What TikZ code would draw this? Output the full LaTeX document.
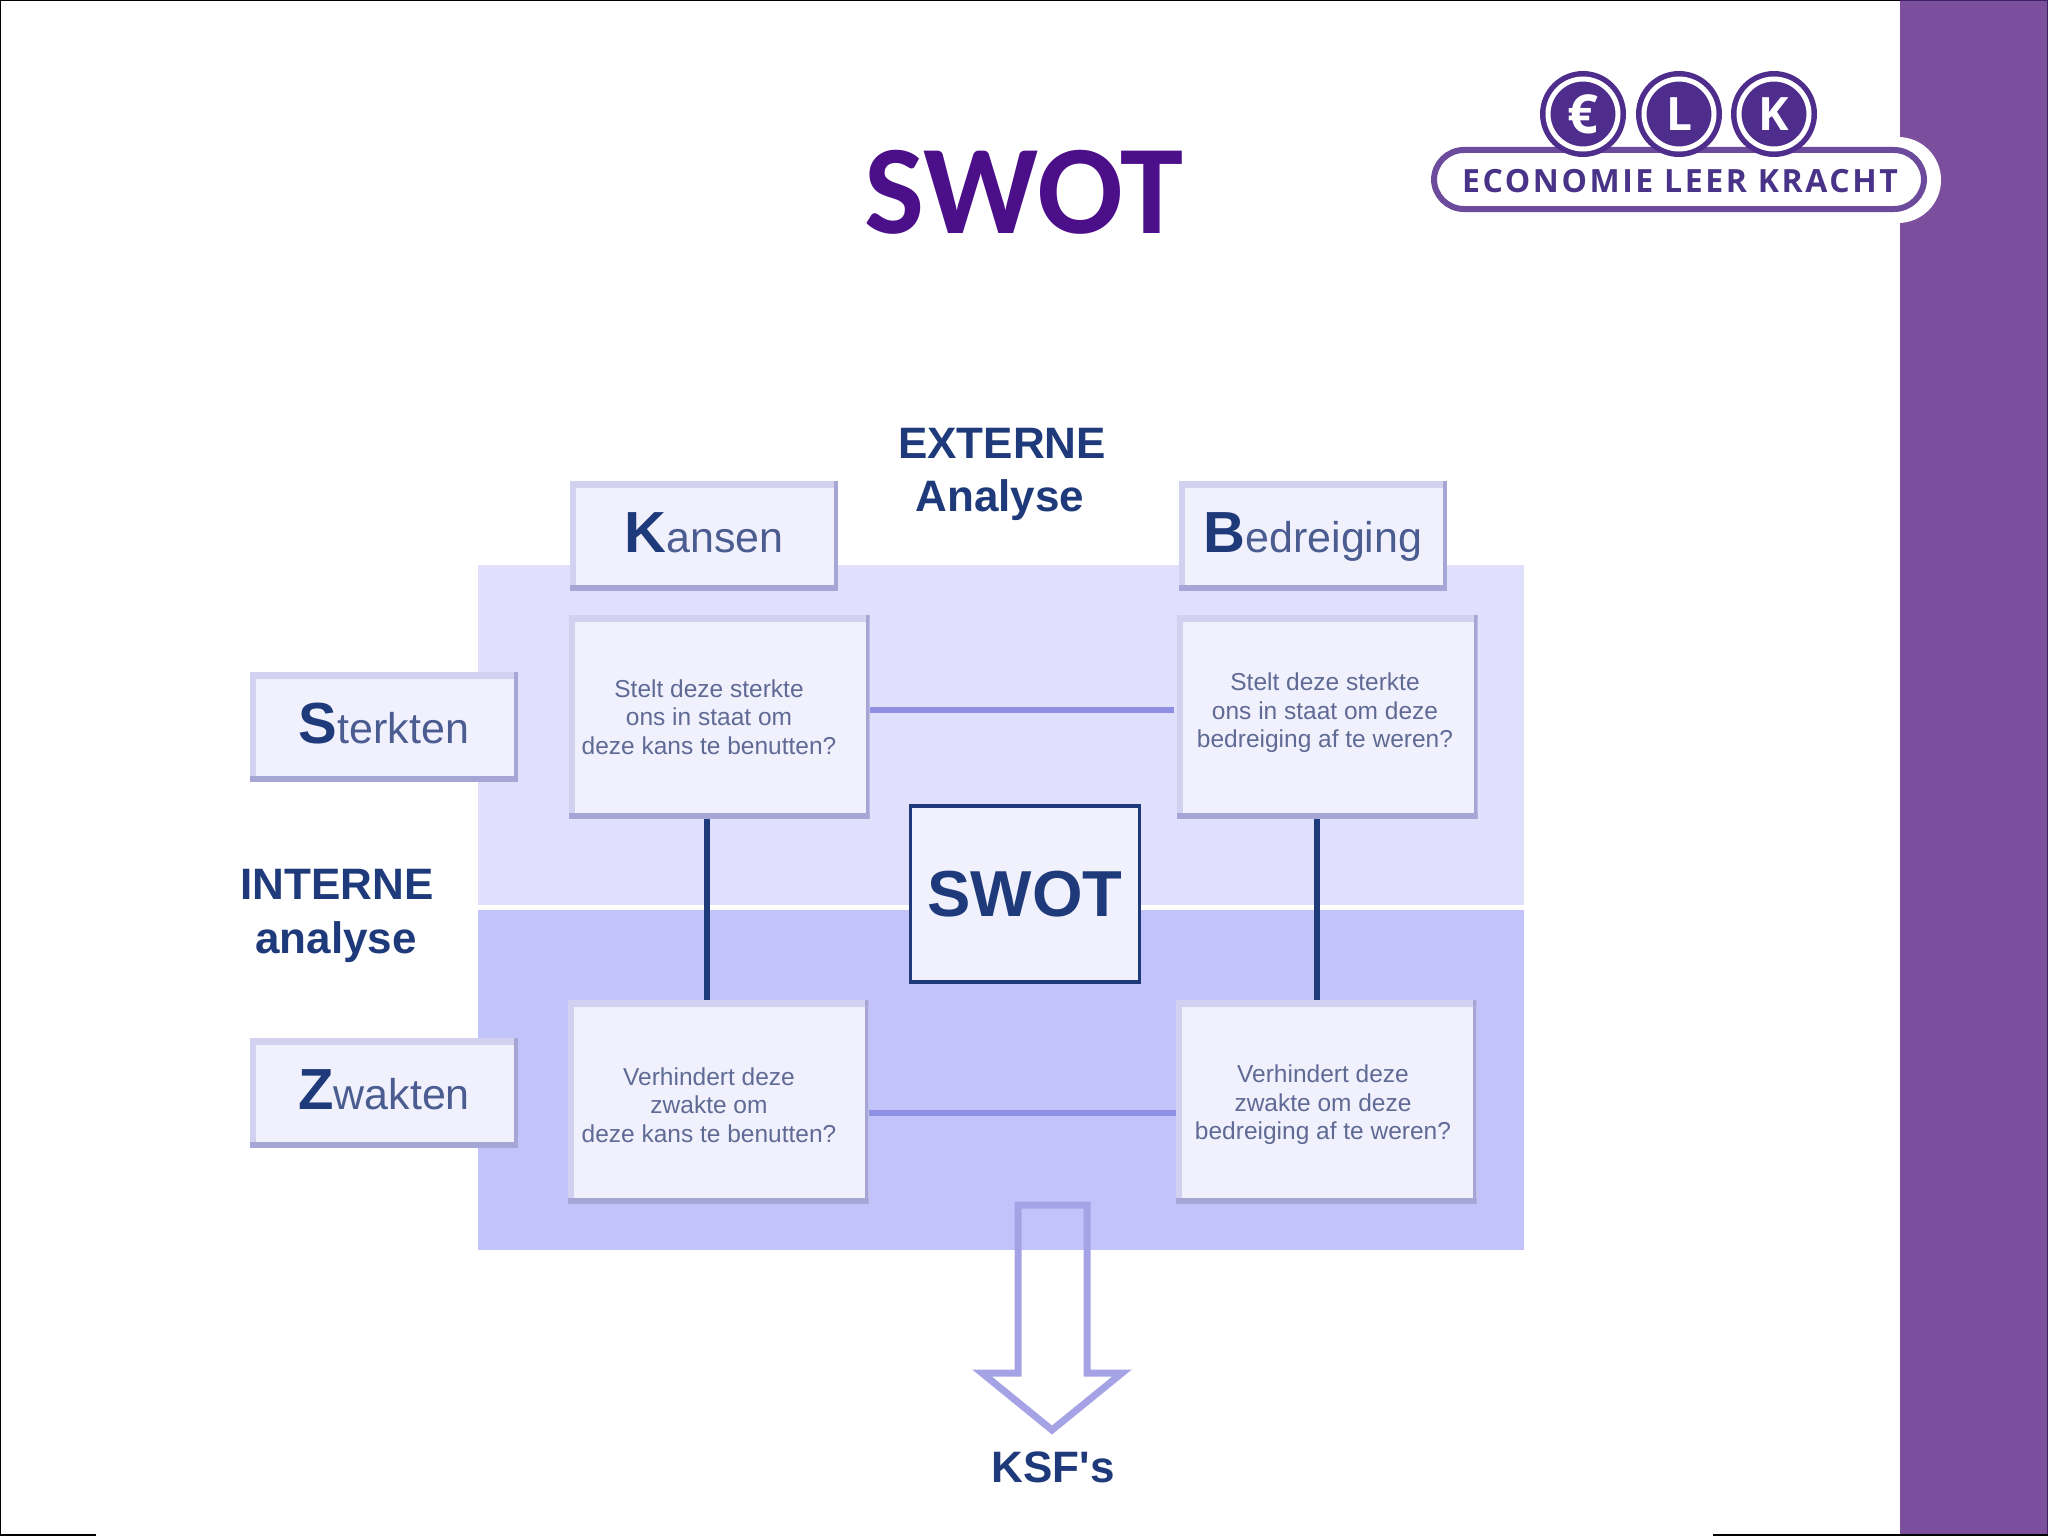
\documentclass[tikz,border=0pt]{standalone}
\usepackage{fontspec}
\setmainfont{Liberation Sans}
\newfontfamily\titlefont{Carlito}
\newfontfamily\logofont[LetterSpace=8]{Open Sans}
\newfontfamily\logoletter{Open Sans}
\definecolor{sidebar}{HTML}{7B4F9D}
\definecolor{sideedge}{HTML}{3F2060}
\definecolor{titlepurple}{HTML}{4B0F8A}
\definecolor{logopurple}{HTML}{4F2D8C}
\definecolor{pillpurple}{HTML}{6C4A9C}
\definecolor{logotext}{HTML}{493388}
\definecolor{panelup}{HTML}{E0E0FC}
\definecolor{paneldown}{HTML}{C3C3FB}
\definecolor{boxfill}{HTML}{F1F1FD}
\definecolor{bevellight}{HTML}{D2D2F0}
\definecolor{beveldark}{HTML}{A6A6D6}
\definecolor{navy}{HTML}{1F3A7A}
\definecolor{softline}{HTML}{8F8FE4}
\definecolor{arrowline}{HTML}{A5A3E6}
\definecolor{bodytext}{HTML}{5F6A95}
\definecolor{labeltext}{HTML}{4A5C90}
\newcommand{\fs}[1]{\fontsize{#1}{#1}\selectfont}
\newcommand{\lab}[2]{{\fs{58}\bfseries\color{navy}#1}{\fs{43}\color{labeltext}#2}}
\tikzset{
  bevelbox/.style={rectangle,fill=boxfill,inner sep=0pt,outer sep=0pt,align=center,
    path picture={
      \fill[bevellight] (path picture bounding box.north west) rectangle ([yshift=-7pt]path picture bounding box.north east);
      \fill[bevellight] (path picture bounding box.north west) rectangle ([xshift=6pt]path picture bounding box.south west);
      \fill[beveldark] (path picture bounding box.south west) rectangle ([yshift=6pt]path picture bounding box.south east);
      \fill[beveldark] (path picture bounding box.north east) rectangle ([xshift=-4pt]path picture bounding box.south east);
    }},
  headbox/.style={bevelbox,minimum width=268pt,minimum height=110pt,text height=42pt,text depth=10pt},
  quadbox/.style={bevelbox,minimum width=301pt,minimum height=204pt},
  quadtext/.style={align=center,text=bodytext,font=\fs{24.5},inner sep=0pt},
  heading/.style={align=center,text=navy,font=\bfseries\fs{44},inner sep=0pt},
  coin/.style={circle,fill=logopurple,minimum size=86pt,inner sep=0pt,outer sep=0pt},
  coinletter/.style={text=white,font=\logoletter\bfseries\fs{46},inner sep=0pt},
  softlink/.style={draw=softline,line width=6pt},
  navylink/.style={draw=navy,line width=5.5pt},
}
\begin{document}
\begin{tikzpicture}[x=1pt,y=-1pt]
\useasboundingbox (0,0) rectangle (2048,1536);
\fill[white] (0,0) rectangle (2048,1536);
\fill[sidebar] (1900,0) rectangle (2048,1536);
\draw[black,line width=2pt] (0,1536) -- (0,0) -- (1900,0);
\draw[sideedge,line width=2pt] (1900,0) -- (2048,0) -- (2048,1536);
\draw[black,line width=2pt] (0,1535) -- (96,1535);
\draw[black,line width=2pt] (1713,1535) -- (2048,1535);

% logo
\fill[white,rounded corners=43pt] (1420,137) rectangle (1941,223);
\draw[pillpurple,line width=6pt,rounded corners=30pt] (1434,150) rectangle (1924,209);
\node[coin] (ce) at (1583,114) {};
\node[coin] (cl) at (1679,114) {};
\node[coin] (ck) at (1774,114) {};
\foreach \c in {ce,cl,ck}{\draw[white,line width=5pt] (\c) circle[radius=35pt];}
\node[coinletter,font=\logoletter\bfseries\fs{54}] (te) at (ce) {€};
\node[coinletter] (tl) at (cl) {L};
\node[coinletter] (tk) at (ck) {K};
\node[text=logotext,font=\logofont\bfseries\fs{32},inner sep=0pt] (brand) at (1680,181) {ECONOMIE LEER KRACHT};

% title
\node[text=titlepurple,font=\titlefont\bfseries\fs{127},inner sep=0pt] (title) at (1024,192) {SWOT};

% panels
\fill[panelup] (478,565) rectangle (1524,905);
\fill[paneldown] (478,910) rectangle (1524,1250);

% quadrants and connectors
\node[quadbox] (qa) at (719,717) {};
\node[quadbox] (qb) at (1327,717) {};
\node[quadbox] (qc) at (718,1102) {};
\node[quadbox] (qd) at (1326,1102) {};
\draw[softlink] ([yshift=7pt]qa.east) -- ([yshift=7pt,xshift=-3pt]qb.west);
\draw[softlink] ([yshift=-11pt]qc.east) -- ([yshift=-11pt]qd.west);
\draw[navylink] ([xshift=-12pt]qa.south) -- ([xshift=-11pt]qc.north);
\draw[navylink] ([xshift=-10pt]qb.south) -- ([xshift=-9pt]qd.north);

% texts in the quadrants
\node[quadtext] (ta) at (709,717) {Stelt deze sterkte\\[4pt]ons in staat om\\[4pt]deze kans te benutten?};
\node[quadtext] (tb) at (1325,713) {Stelt deze sterkte\\[4pt]ons in staat om deze\\[4pt]bedreiging af te weren?};
\node[quadtext] (tc) at (709,1105) {Verhindert deze\\[4pt]zwakte om\\[4pt]deze kans te benutten?};
\node[quadtext] (td) at (1323,1105) {Verhindert deze\\[4pt]zwakte om deze\\[4pt]bedreiging af te weren?};

% head boxes
\node[headbox] (kansen) at (704,536) {\lab{K}{ansen}};
\node[headbox] (bedreiging) at (1313,536) {\lab{B}{edreiging}};
\node[headbox] (sterkten) at (384,727) {\lab{S}{terkten}};
\node[headbox] (zwakten) at (384,1093) {\lab{Z}{wakten}};

% centre
\node[rectangle,draw=navy,line width=3.5pt,fill=boxfill,minimum width=229pt,minimum height=176pt,text=navy,font=\bfseries\fs{65},inner sep=0pt] (swot) at (1025,894) {SWOT};

% headings
\node[heading] (ext1) at (1002,443) {EXTERNE};
\node[heading] (ext2) at (1000,500) {Analyse};
\node[heading] (int1) at (337,884) {INTERNE};
\node[heading] (int2) at (336,942) {analyse};

% output arrow
\draw[arrowline,line width=7pt,line join=miter] (1018,1373) -- (1018,1205) -- (1087,1205) -- (1087,1373) -- (1122,1373) -- (1052,1430) -- (982,1373) -- cycle;
\node[heading] (ksf) at (1053,1467) {KSF\textquotesingle s};
\end{tikzpicture}
\end{document}
